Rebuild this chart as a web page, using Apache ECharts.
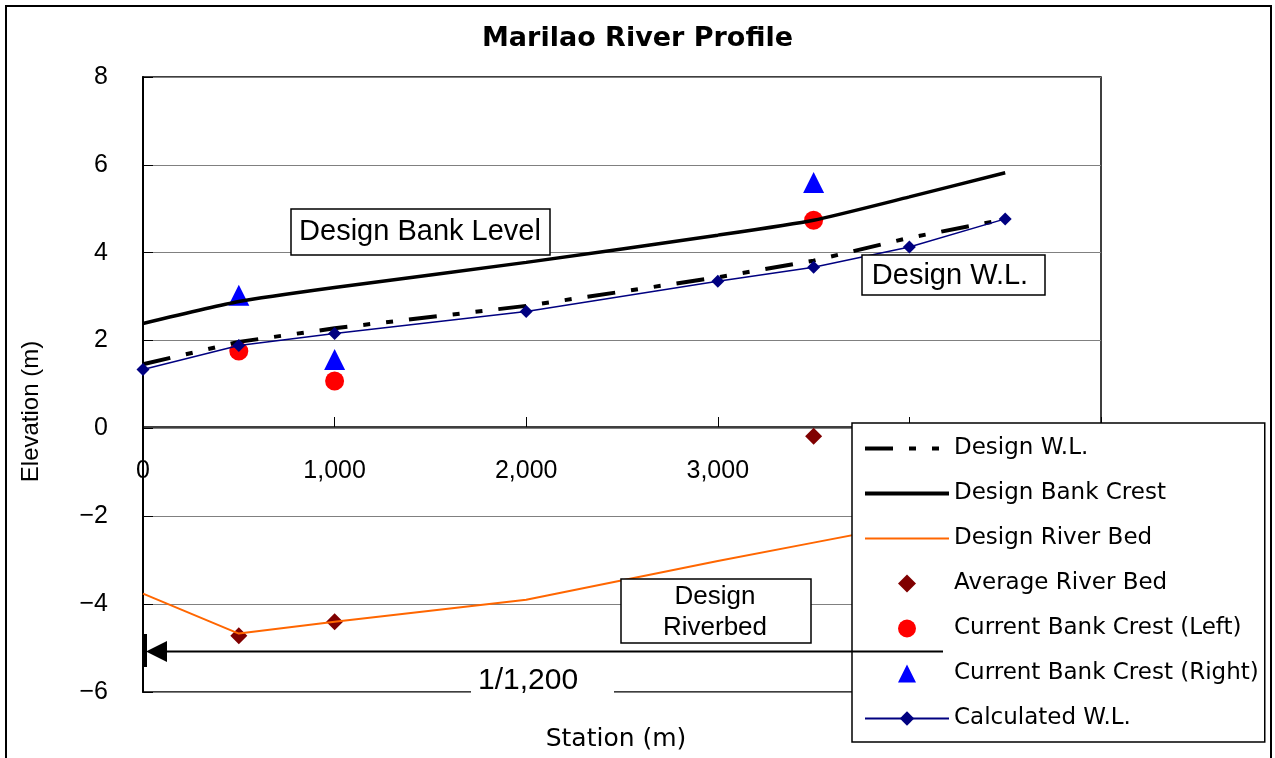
<!DOCTYPE html>
<html>
<head>
<meta charset="utf-8">
<title>Marilao River Profile</title>
<script src="https://cdn.jsdelivr.net/npm/echarts@6/dist/echarts.min.js"></script>
<style>
html, body { margin: 0; padding: 0; background: #fff; }
#main { width: 1275px; height: 758px; }
</style>
</head>
<body>
<div id="main"></div>
<script>
// stations along the river (m)
const stations = [0, 500, 1000, 2000, 3000, 3500, 4000, 4500];
// elevations (m) at each station
const designWL = [1.46, 1.97, 2.28, 2.79, 3.44, 3.82, 4.34, 4.76];
const designBank = [2.39, 2.89, 3.21, 3.78, 4.40, 4.74, 5.27, 5.82];
const designBed = [-3.76, -4.67, -4.40, -3.90, -3.02, -2.60, -2.18, -1.76];
const calcWL = [1.34, 1.89, 2.16, 2.66, 3.35, 3.67, 4.13, 4.77];
// surveyed sections
const surveyStations = [500, 1000, 3500];
const avgBed = [-4.72, -4.40, -0.18];
const bankLeft = [1.76, 1.08, 4.74];
const bankRight = [3.03, 1.57, 5.60];

const pairs = (xs, ys) => xs.map((x, i) => [x, ys[i]]);

// legend glyphs that keep their aspect inside the wide legend slot
const diamondIcon = 'path://M0,-1L1,0L0,1L-1,0Z';
const circleIcon = 'path://M0,-1A1,1,0,1,1,0,1A1,1,0,1,1,0,-1Z';
const triangleIcon = 'path://M0,0L1,2L-1,2Z';

const wlDash = [28, 16, 7, 16, 7, 16];

const chart = echarts.init(document.getElementById('main'));

chart.setOption({
  animation: false,
  backgroundColor: '#fff',
  title: {
    text: 'Marilao River Profile',
    left: 'center',
    top: 20,
    textStyle: { fontFamily: 'DejaVu Sans', fontWeight: 'bold', fontSize: 27, color: '#000' }
  },
  grid: {
    left: 143, top: 77, right: 174, bottom: 66,
    outerBoundsMode: 'none',
    containLabel: false,
    show: true, borderColor: '#000', borderWidth: 1.5
  },
  legend: {
    orient: 'vertical',
    left: 852, top: 423,
    padding: [14, 6, 12, 11],
    itemWidth: 84, itemHeight: 18, itemGap: 22,
    symbolKeepAspect: true,
    backgroundColor: '#fff',
    borderColor: '#000', borderWidth: 1.5,
    selectedMode: false,
    textStyle: { fontFamily: 'DejaVu Sans', fontSize: 23, lineHeight: 22, color: '#000' },
    data: [
      { name: 'Design W.L.', itemStyle: { opacity: 0 }, lineStyle: { width: 4, type: wlDash } },
      { name: 'Design Bank Crest', itemStyle: { opacity: 0 }, lineStyle: { width: 4 } },
      { name: 'Design River Bed', itemStyle: { opacity: 0 }, lineStyle: { width: 2 } },
      { name: 'Average River Bed', icon: diamondIcon },
      { name: 'Current Bank Crest (Left)', icon: circleIcon },
      { name: 'Current Bank Crest (Right)', icon: triangleIcon },
      { name: 'Calculated W.L.', lineStyle: { width: 2 } }
    ]
  },
  xAxis: {
    type: 'value',
    min: 0, max: 5000, interval: 1000,
    position: 'bottom',
    offset: -265,
    name: 'Station (m)',
    nameLocation: 'middle',
    nameGap: 300,
    nameTextStyle: { fontFamily: 'DejaVu Sans', fontSize: 25, color: '#000', padding: [0, 12, 0, 0] },
    axisLine: { onZero: false, lineStyle: { color: '#000', width: 1.5 } },
    axisTick: { inside: true, length: 10, lineStyle: { color: '#000' } },
    axisLabel: {
      margin: 32,
      fontFamily: 'Liberation Sans', fontSize: 25, color: '#000',
      formatter: v => v.toLocaleString('en-US')
    },
    splitLine: { show: false }
  },
  yAxis: {
    type: 'value',
    min: -6, max: 8, interval: 2,
    name: 'Elevation (m)',
    nameLocation: 'middle',
    nameGap: 100,
    nameTextStyle: { fontFamily: 'Liberation Sans', fontSize: 24, color: '#000', padding: [0, 54, 0, 0] },
    axisLine: { show: true, lineStyle: { color: '#000', width: 2 } },
    axisTick: { inside: true, length: 10, lineStyle: { color: '#000' } },
    axisLabel: {
      margin: 35,
      fontFamily: 'Liberation Sans', fontSize: 25, color: '#000',
      formatter: v => (v < 0 ? '\u2212' + Math.abs(v) : String(v))
    },
    splitLine: { lineStyle: { color: '#808080', width: 1 } }
  },
  series: [
    {
      name: 'Design W.L.',
      type: 'line',
      data: pairs(stations, designWL),
      symbol: 'none',
      itemStyle: { color: '#000' },
      lineStyle: { color: '#000', width: 4, type: wlDash }
    },
    {
      name: 'Design Bank Crest',
      type: 'line',
      data: pairs(stations, designBank),
      symbol: 'none',
      smooth: 0.2,
      itemStyle: { color: '#000' },
      lineStyle: { color: '#000', width: 3.5 }
    },
    {
      name: 'Design River Bed',
      type: 'line',
      data: pairs(stations, designBed),
      symbol: 'none',
      itemStyle: { color: '#FF6600' },
      lineStyle: { color: '#FF6600', width: 2 }
    },
    {
      name: 'Average River Bed',
      type: 'scatter',
      data: pairs(surveyStations, avgBed),
      symbol: 'diamond',
      symbolSize: 17,
      itemStyle: { color: '#800000', opacity: 1 }
    },
    {
      name: 'Current Bank Crest (Left)',
      type: 'scatter',
      data: pairs(surveyStations, bankLeft),
      symbol: 'circle',
      symbolSize: 19,
      itemStyle: { color: '#FF0000', opacity: 1 }
    },
    {
      name: 'Current Bank Crest (Right)',
      type: 'scatter',
      data: pairs(surveyStations, bankRight),
      symbol: 'triangle',
      symbolSize: 21,
      itemStyle: { color: '#0000FF', opacity: 1 }
    },
    {
      name: 'Calculated W.L.',
      type: 'line',
      data: pairs(stations, calcWL),
      symbol: 'diamond',
      symbolSize: 13,
      showAllSymbol: true,
      itemStyle: { color: '#000080' },
      lineStyle: { color: '#000080', width: 1.5 }
    }
  ],
  graphic: [
    // outer chart frame
    { type: 'rect', z: 20, shape: { x: 6, y: 6, width: 1265, height: 800 },
      style: { fill: 'none', stroke: '#000', lineWidth: 2 } },
    // label boxes
    { type: 'rect', z: 10, shape: { x: 291, y: 209, width: 259, height: 46 },
      style: { fill: '#fff', stroke: '#000', lineWidth: 1.5 } },
    { type: 'text', z: 11, x: 420, y: 232,
      style: { text: 'Design Bank Level', font: '29px "Liberation Sans"', fill: '#000', align: 'center', verticalAlign: 'middle' } },
    { type: 'rect', z: 10, shape: { x: 862, y: 255, width: 183, height: 40 },
      style: { fill: '#fff', stroke: '#000', lineWidth: 1.5 } },
    { type: 'text', z: 11, x: 950, y: 276,
      style: { text: 'Design W.L.', font: '29px "Liberation Sans"', fill: '#000', align: 'center', verticalAlign: 'middle' } },
    { type: 'rect', z: 10, shape: { x: 621, y: 579, width: 190, height: 64 },
      style: { fill: '#fff', stroke: '#000', lineWidth: 1.5 } },
    { type: 'text', z: 11, x: 715, y: 612,
      style: { text: 'Design\nRiverbed', font: '26px "Liberation Sans"', lineHeight: 31, fill: '#000', align: 'center', verticalAlign: 'middle' } },
    // slope indicator
    { type: 'line', z: 10, shape: { x1: 150, y1: 651.5, x2: 943, y2: 651.5 },
      style: { stroke: '#000', lineWidth: 2 } },
    { type: 'polygon', z: 10, shape: { points: [[146, 651.5], [167, 641], [167, 662]] },
      style: { fill: '#000' } },
    { type: 'rect', z: 10, shape: { x: 142, y: 634, width: 5, height: 33 },
      style: { fill: '#000' } },
    { type: 'rect', z: 10, shape: { x: 471, y: 668, width: 143, height: 32 },
      style: { fill: '#fff' } },
    { type: 'text', z: 11, x: 478, y: 681,
      style: { text: '1/1,200', font: '30px "Liberation Sans"', fill: '#000', align: 'left', verticalAlign: 'middle' } }
  ]
});
</script>
</body>
</html>
